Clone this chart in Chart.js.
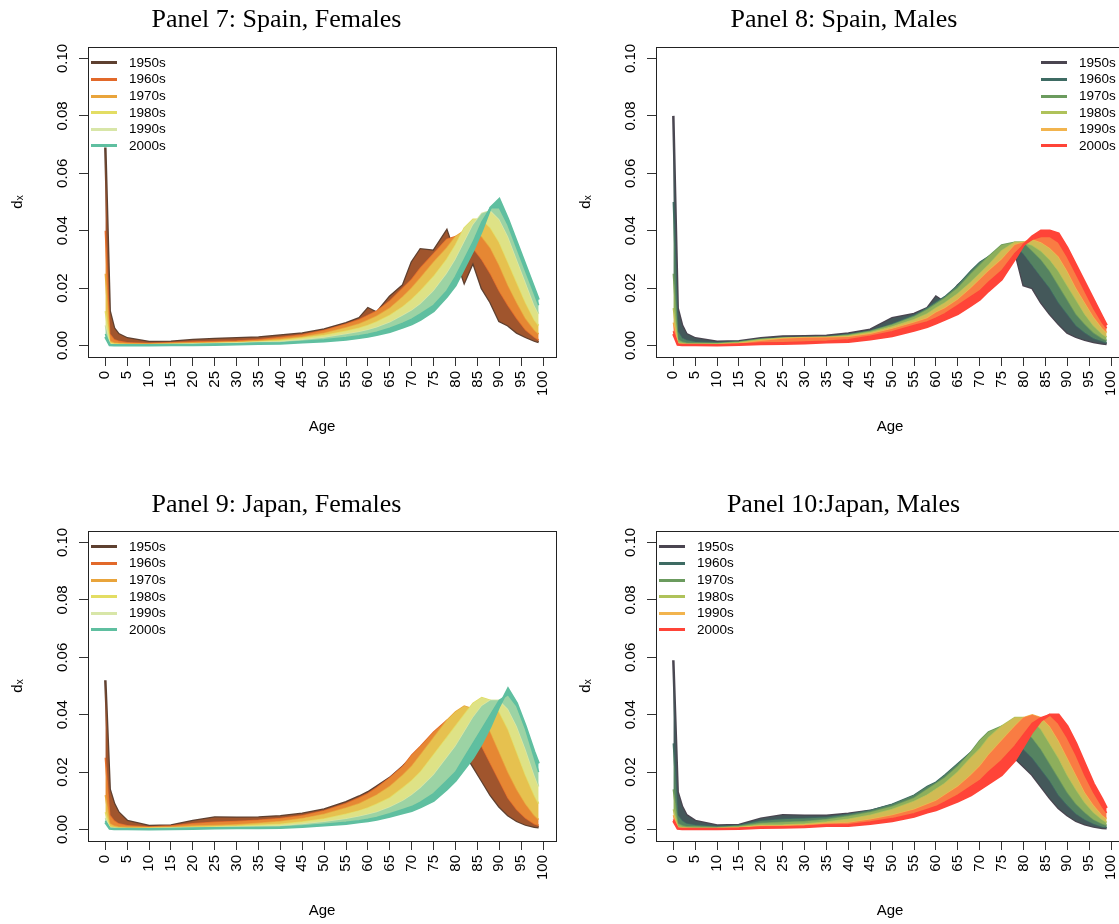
<!DOCTYPE html>
<html>
<head>
<meta charset="utf-8">
<script src="https://cdn.jsdelivr.net/npm/chart.js@4/dist/chart.umd.min.js"></script>
<style>
  html, body { margin: 0; padding: 0; background: #fff; width: 1119px; height: 924px; overflow: hidden; position: relative; }
  canvas { position: absolute; }
  .ttl { position: absolute; font-family: "Liberation Serif", "Times New Roman", serif; font-size: 26px; line-height: 26px; white-space: nowrap; color: #000; transform: translateX(-50%); }
  .sw { position: absolute; width: 26px; height: 3px; }
  .lt { position: absolute; font-family: "Liberation Sans", Arial, sans-serif; font-size: 13.5px; line-height: 16px; color: #000; white-space: nowrap; }
</style>
</head>
<body>
<script>
// Ages at which the life-table deaths d(x) are plotted
const AGES = [0, 1, 2, 3, 5, 10, 15, 20, 25, 30, 35, 40, 45, 50, 55, 58, 60, 62, 65, 68, 70, 72, 75, 78, 80, 82, 84, 86, 88, 90, 92, 94, 96, 98, 99];
const X_TICKS = [0, 5, 10, 15, 20, 25, 30, 35, 40, 45, 50, 55, 60, 65, 70, 75, 80, 85, 90, 95, 100];
const Y_TICKS = [0, 0.02, 0.04, 0.06, 0.08, 0.10];
const DECADES = ['1950s', '1960s', '1970s', '1980s', '1990s', '2000s'];
const YEARS = [1950, 1960, 1970, 1980, 1990, 2000, 2009];

const FEMALE_COLORS = ['#5e4030', '#e2692a', '#e9a43b', '#e3dd63', '#d8e6a8', '#5fbfa0'];
const MALE_COLORS = ['#4a4550', '#3e6b63', '#6b9b5e', '#afc25a', '#f2b44e', '#ff4438'];

// Spain, females
const ES_F_1950 = [0.069, 0.012, 0.006, 0.004, 0.0025, 0.0012, 0.0013, 0.0019, 0.0023, 0.0025, 0.0028, 0.0035, 0.0042, 0.0056, 0.0078, 0.0095, 0.013, 0.0115, 0.017, 0.021, 0.029, 0.0335, 0.033, 0.040, 0.031, 0.022, 0.029, 0.020, 0.015, 0.0085, 0.007, 0.0045, 0.003, 0.0017, 0.0012];
const ES_F_1960 = [0.040, 0.004, 0.002, 0.0015, 0.001, 0.0007, 0.001, 0.0012, 0.0014, 0.0016, 0.002, 0.0028, 0.0037, 0.0052, 0.0074, 0.009, 0.0105, 0.012, 0.0155, 0.020, 0.023, 0.027, 0.032, 0.037, 0.038, 0.037, 0.034, 0.030, 0.025, 0.019, 0.014, 0.0095, 0.0055, 0.003, 0.002];
const ES_F_1970 = [0.025, 0.0015, 0.0009, 0.0007, 0.0006, 0.0005, 0.0007, 0.0009, 0.001, 0.0012, 0.0016, 0.0022, 0.003, 0.0043, 0.0062, 0.0075, 0.0088, 0.0102, 0.013, 0.017, 0.020, 0.0235, 0.029, 0.034, 0.038, 0.040, 0.040, 0.038, 0.034, 0.028, 0.021, 0.015, 0.0095, 0.0055, 0.004];
const ES_F_1980 = [0.012, 0.0008, 0.0005, 0.0004, 0.0003, 0.0003, 0.0004, 0.0006, 0.0007, 0.0009, 0.0012, 0.0017, 0.0025, 0.0035, 0.005, 0.006, 0.007, 0.0082, 0.0105, 0.0135, 0.016, 0.019, 0.024, 0.030, 0.035, 0.041, 0.044, 0.044, 0.041, 0.036, 0.029, 0.022, 0.015, 0.009, 0.007];
const ES_F_1990 = [0.007, 0.0004, 0.0003, 0.0002, 0.0002, 0.0002, 0.0003, 0.0005, 0.0007, 0.0009, 0.0011, 0.0013, 0.0019, 0.0027, 0.0039, 0.0047, 0.0054, 0.0063, 0.008, 0.0105, 0.0122, 0.0145, 0.019, 0.025, 0.030, 0.036, 0.042, 0.046, 0.047, 0.044, 0.038, 0.030, 0.022, 0.014, 0.011];
const ES_F_2000 = [0.004, 0.0003, 0.0002, 0.0002, 0.0001, 0.0001, 0.0002, 0.0003, 0.0004, 0.0005, 0.0008, 0.0009, 0.0014, 0.002, 0.0028, 0.0034, 0.0039, 0.0046, 0.006, 0.0078, 0.0092, 0.011, 0.014, 0.019, 0.024, 0.030, 0.036, 0.043, 0.048, 0.048, 0.042, 0.034, 0.026, 0.018, 0.014];
const ES_F_2009 = [0.003, 0.0002, 0.0001, 0.0001, 0.0001, 0.0001, 0.0002, 0.0002, 0.0003, 0.0004, 0.0006, 0.0007, 0.0011, 0.0015, 0.0021, 0.0027, 0.0031, 0.0037, 0.0048, 0.0063, 0.0075, 0.009, 0.012, 0.017, 0.021, 0.027, 0.033, 0.040, 0.048, 0.051, 0.044, 0.036, 0.028, 0.020, 0.016];

// Spain, males
const ES_M_1950 = [0.080, 0.013, 0.007, 0.004, 0.0025, 0.0013, 0.0015, 0.0025, 0.0031, 0.0032, 0.0034, 0.0042, 0.0055, 0.0095, 0.011, 0.013, 0.017, 0.015, 0.021, 0.025, 0.027, 0.030, 0.030, 0.033, 0.021, 0.020, 0.015, 0.011, 0.0075, 0.0045, 0.003, 0.002, 0.0012, 0.0007, 0.0005];
const ES_M_1960 = [0.050, 0.005, 0.0025, 0.0018, 0.0012, 0.001, 0.0013, 0.0022, 0.0026, 0.0028, 0.003, 0.0038, 0.005, 0.0075, 0.0105, 0.013, 0.015, 0.017, 0.021, 0.026, 0.029, 0.031, 0.034, 0.035, 0.032, 0.028, 0.024, 0.020, 0.015, 0.011, 0.007, 0.0045, 0.0025, 0.0015, 0.001];
const ES_M_1970 = [0.025, 0.002, 0.0012, 0.0009, 0.0008, 0.0007, 0.0012, 0.0022, 0.0024, 0.0026, 0.003, 0.0037, 0.005, 0.0072, 0.010, 0.0125, 0.0145, 0.0165, 0.020, 0.025, 0.028, 0.031, 0.035, 0.036, 0.036, 0.033, 0.030, 0.026, 0.021, 0.016, 0.011, 0.0075, 0.0045, 0.0025, 0.0018];
const ES_M_1980 = [0.013, 0.001, 0.0007, 0.0005, 0.0005, 0.0005, 0.001, 0.002, 0.0026, 0.0028, 0.0028, 0.0033, 0.0045, 0.0065, 0.009, 0.011, 0.013, 0.0148, 0.018, 0.022, 0.025, 0.028, 0.033, 0.036, 0.036, 0.035, 0.033, 0.030, 0.026, 0.021, 0.016, 0.011, 0.007, 0.004, 0.003];
const ES_M_1990 = [0.008, 0.0006, 0.0004, 0.0003, 0.0003, 0.0003, 0.0007, 0.0016, 0.0024, 0.0027, 0.0028, 0.003, 0.004, 0.0058, 0.008, 0.0095, 0.0115, 0.013, 0.016, 0.020, 0.023, 0.026, 0.030, 0.035, 0.036, 0.037, 0.036, 0.034, 0.031, 0.026, 0.020, 0.015, 0.010, 0.006, 0.0045];
const ES_M_2000 = [0.005, 0.0004, 0.0003, 0.0002, 0.0002, 0.0002, 0.0004, 0.0009, 0.001, 0.0012, 0.0015, 0.002, 0.0032, 0.0048, 0.007, 0.0082, 0.0095, 0.011, 0.014, 0.017, 0.019, 0.022, 0.026, 0.032, 0.035, 0.037, 0.038, 0.038, 0.036, 0.031, 0.025, 0.019, 0.013, 0.008, 0.006];
const ES_M_2009 = [0.004, 0.0003, 0.0002, 0.0002, 0.0002, 0.0001, 0.0003, 0.0005, 0.0006, 0.0008, 0.0011, 0.0013, 0.0022, 0.0033, 0.0052, 0.0065, 0.0077, 0.009, 0.011, 0.014, 0.016, 0.019, 0.023, 0.030, 0.035, 0.038, 0.040, 0.040, 0.039, 0.034, 0.028, 0.022, 0.016, 0.010, 0.007];

// Japan, females
const JP_F_1950 = [0.052, 0.014, 0.009, 0.006, 0.003, 0.0012, 0.0014, 0.003, 0.0042, 0.0041, 0.0042, 0.0046, 0.0055, 0.007, 0.0095, 0.0115, 0.013, 0.015, 0.018, 0.022, 0.025, 0.028, 0.031, 0.032, 0.030, 0.027, 0.022, 0.017, 0.012, 0.008, 0.005, 0.003, 0.0017, 0.001, 0.0008];
const JP_F_1960 = [0.025, 0.005, 0.003, 0.002, 0.0013, 0.0009, 0.0012, 0.002, 0.0025, 0.0028, 0.0032, 0.0038, 0.0048, 0.0065, 0.009, 0.011, 0.0125, 0.0145, 0.018, 0.022, 0.026, 0.029, 0.034, 0.038, 0.039, 0.037, 0.034, 0.029, 0.023, 0.017, 0.011, 0.007, 0.004, 0.002, 0.0015];
const JP_F_1970 = [0.012, 0.002, 0.0012, 0.0009, 0.0008, 0.0006, 0.0008, 0.0012, 0.0014, 0.0017, 0.0022, 0.0028, 0.0038, 0.0053, 0.0075, 0.009, 0.0105, 0.012, 0.015, 0.019, 0.022, 0.026, 0.032, 0.038, 0.041, 0.043, 0.042, 0.039, 0.034, 0.027, 0.020, 0.014, 0.009, 0.005, 0.0035];
const JP_F_1980 = [0.006, 0.001, 0.0006, 0.0005, 0.0003, 0.0004, 0.0005, 0.0007, 0.0009, 0.0011, 0.0015, 0.0018, 0.0026, 0.0037, 0.0053, 0.0065, 0.0075, 0.0088, 0.011, 0.0145, 0.017, 0.020, 0.026, 0.032, 0.036, 0.040, 0.044, 0.046, 0.045, 0.041, 0.035, 0.027, 0.019, 0.012, 0.009];
const JP_F_1990 = [0.004, 0.0006, 0.0004, 0.0003, 0.0003, 0.0003, 0.0004, 0.0005, 0.0007, 0.0009, 0.001, 0.0012, 0.0018, 0.0026, 0.0037, 0.0045, 0.0052, 0.006, 0.0078, 0.010, 0.012, 0.0145, 0.019, 0.025, 0.029, 0.034, 0.039, 0.043, 0.045, 0.045, 0.042, 0.036, 0.028, 0.019, 0.015];
const JP_F_2000 = [0.003, 0.0004, 0.0003, 0.0002, 0.0002, 0.0002, 0.0003, 0.0004, 0.0005, 0.0006, 0.0007, 0.0008, 0.0012, 0.0018, 0.0025, 0.0031, 0.0036, 0.0042, 0.0055, 0.007, 0.008, 0.0095, 0.0125, 0.017, 0.020, 0.025, 0.030, 0.035, 0.040, 0.045, 0.047, 0.043, 0.035, 0.025, 0.020];
const JP_F_2009 = [0.0025, 0.0003, 0.0002, 0.0002, 0.0002, 0.0001, 0.0002, 0.0003, 0.0004, 0.0005, 0.0005, 0.0006, 0.001, 0.0015, 0.002, 0.0026, 0.003, 0.0035, 0.0045, 0.0057, 0.0065, 0.0078, 0.010, 0.014, 0.017, 0.021, 0.025, 0.030, 0.036, 0.043, 0.049, 0.044, 0.036, 0.027, 0.023];

// Japan, males
const JP_M_1950 = [0.059, 0.013, 0.008, 0.005, 0.003, 0.0014, 0.0016, 0.0038, 0.005, 0.0048, 0.0048, 0.0055, 0.0065, 0.0085, 0.011, 0.0135, 0.015, 0.017, 0.020, 0.023, 0.025, 0.026, 0.027, 0.025, 0.022, 0.019, 0.015, 0.011, 0.0075, 0.005, 0.003, 0.0018, 0.001, 0.0005, 0.0004];
const JP_M_1960 = [0.030, 0.005, 0.003, 0.002, 0.0015, 0.001, 0.0014, 0.003, 0.0036, 0.0038, 0.0042, 0.0052, 0.0066, 0.0088, 0.012, 0.015, 0.0165, 0.019, 0.023, 0.027, 0.029, 0.031, 0.032, 0.031, 0.028, 0.025, 0.021, 0.017, 0.012, 0.0085, 0.0055, 0.0035, 0.002, 0.001, 0.0008];
const JP_M_1970 = [0.014, 0.002, 0.0013, 0.001, 0.001, 0.0007, 0.0011, 0.0022, 0.0025, 0.0028, 0.0035, 0.0046, 0.006, 0.008, 0.011, 0.014, 0.016, 0.018, 0.022, 0.027, 0.031, 0.034, 0.036, 0.037, 0.035, 0.032, 0.028, 0.023, 0.018, 0.013, 0.009, 0.006, 0.0035, 0.002, 0.0015];
const JP_M_1980 = [0.007, 0.001, 0.0007, 0.0005, 0.0004, 0.0005, 0.0008, 0.0015, 0.0016, 0.0019, 0.0026, 0.0036, 0.005, 0.007, 0.0098, 0.012, 0.014, 0.016, 0.020, 0.025, 0.028, 0.032, 0.036, 0.039, 0.039, 0.038, 0.035, 0.030, 0.025, 0.019, 0.014, 0.0095, 0.006, 0.0035, 0.0025];
const JP_M_1990 = [0.005, 0.0006, 0.0004, 0.0004, 0.0003, 0.0003, 0.0006, 0.0012, 0.0013, 0.0016, 0.0021, 0.0024, 0.0035, 0.005, 0.007, 0.0088, 0.010, 0.012, 0.015, 0.019, 0.022, 0.026, 0.031, 0.036, 0.039, 0.040, 0.039, 0.036, 0.031, 0.025, 0.019, 0.013, 0.0085, 0.005, 0.0038];
const JP_M_2000 = [0.0035, 0.0004, 0.0003, 0.0003, 0.0002, 0.0002, 0.0004, 0.0008, 0.0009, 0.0011, 0.0016, 0.0017, 0.0026, 0.0038, 0.0055, 0.007, 0.008, 0.0095, 0.012, 0.015, 0.017, 0.020, 0.024, 0.029, 0.033, 0.037, 0.039, 0.040, 0.037, 0.032, 0.026, 0.019, 0.013, 0.008, 0.0058];
const JP_M_2009 = [0.003, 0.0003, 0.0002, 0.0002, 0.0002, 0.0002, 0.0003, 0.0006, 0.0007, 0.0009, 0.0013, 0.0013, 0.002, 0.003, 0.0045, 0.006, 0.0068, 0.008, 0.0098, 0.012, 0.014, 0.016, 0.019, 0.024, 0.029, 0.034, 0.038, 0.040, 0.040, 0.036, 0.030, 0.023, 0.016, 0.0105, 0.0075];

const SANS = '"Liberation Sans", Arial, Helvetica, sans-serif';
Chart.defaults.font.family = SANS;
Chart.defaults.color = '#000';

const PANELS = [
  { title: 'Panel 7: Spain, Females', left: 0, top: 0, titleX: 276.5, titleTop: 6, legend: 'left',
    colors: FEMALE_COLORS, series: [ES_F_1950, ES_F_1960, ES_F_1970, ES_F_1980, ES_F_1990, ES_F_2000, ES_F_2009] },
  { title: 'Panel 8: Spain, Males', left: 568, top: 0, titleX: 844, titleTop: 6, legend: 'right',
    colors: MALE_COLORS, series: [ES_M_1950, ES_M_1960, ES_M_1970, ES_M_1980, ES_M_1990, ES_M_2000, ES_M_2009] },
  { title: 'Panel 9: Japan, Females', left: 0, top: 484, titleX: 276.5, titleTop: 490.5, legend: 'left',
    colors: FEMALE_COLORS, series: [JP_F_1950, JP_F_1960, JP_F_1970, JP_F_1980, JP_F_1990, JP_F_2000, JP_F_2009] },
  { title: 'Panel 10:Japan, Males', left: 568, top: 484, titleX: 843.5, titleTop: 490.5, legend: 'left',
    colors: MALE_COLORS, series: [JP_M_1950, JP_M_1960, JP_M_1970, JP_M_1980, JP_M_1990, JP_M_2000, JP_M_2009] }
];

// canvas geometry (plot box is 88..556 x 47..357 inside each canvas)
const CW = 568, CH = 440, BOX_L = 88, BOX_R = 556, BOX_T = 47;

function hexToRgb(h) {
  const n = parseInt(h.slice(1), 16);
  return [(n >> 16) & 255, (n >> 8) & 255, n & 255];
}
function mix(a, b, t) {
  const A = hexToRgb(a), B = hexToRgb(b);
  const c = A.map((v, i) => Math.round(v + (B[i] - v) * t));
  return 'rgb(' + c.join(',') + ')';
}

function el(tag, cls, css, text) {
  const e = document.createElement(tag);
  if (cls) e.className = cls;
  Object.assign(e.style, css);
  if (text != null) e.textContent = text;
  document.body.appendChild(e);
  return e;
}

function axisBase(extra) {
  return Object.assign({
    type: 'linear',
    grid: { display: true, drawOnChartArea: false, drawTicks: true, tickLength: 9, color: '#333', lineWidth: 1 },
    border: { display: true, color: '#222', width: 1 }
  }, extra);
}

PANELS.forEach(p => {
  const cv = document.createElement('canvas');
  cv.width = CW; cv.height = CH;
  cv.style.left = p.left + 'px';
  cv.style.top = p.top + 'px';
  cv.style.width = CW + 'px';
  cv.style.height = CH + 'px';
  document.body.appendChild(cv);

  // one line per year; the band between consecutive years takes the blend of their decade colours
  const last = p.series.length - 1;
  const datasets = p.series.map((vals, i) => {
    const dec = Math.min(i, DECADES.length - 1);
    const prev = Math.max(i - 1, 0);
    return {
      label: String(YEARS[i]),
      data: AGES.map((a, j) => ({ x: a, y: vals[j] })),
      borderColor: p.colors[dec],
      borderWidth: (i === 0 || i === last) ? 2.5 : 1.5,
      pointRadius: 0,
      tension: 0,
      fill: i === 0 ? false : '-1',
      backgroundColor: mix(p.colors[prev], p.colors[dec], 0.5),
      order: -i
    };
  });

  new Chart(cv, {
    type: 'line',
    data: { datasets },
    options: {
      responsive: false,
      animation: false,
      devicePixelRatio: 1,
      layout: { padding: { left: 0, right: CW - BOX_R, top: BOX_T, bottom: 0 } },
      plugins: {
        legend: { display: false },
        tooltip: { enabled: false },
        filler: { drawTime: 'beforeDatasetDraw' }
      },
      scales: {
        x: axisBase({
          position: 'bottom', min: -3.96, max: 102.96,
          afterBuildTicks: s => { s.ticks = X_TICKS.map(v => ({ value: v })); },
          afterFit: s => { s.height = CH - 357; },
          ticks: { autoSkip: false, minRotation: 90, maxRotation: 90, padding: 5, color: '#000',
                   font: { size: 15 }, callback: v => String(v) },
          title: { display: true, text: 'Age', color: '#000', font: { size: 15 }, padding: { top: 0, bottom: 4.5 } }
        }),
        y: axisBase({
          position: 'left', min: -0.004, max: 0.104,
          afterBuildTicks: s => { s.ticks = Y_TICKS.map(v => ({ value: v })); },
          afterFit: s => { s.width = BOX_L; },
          ticks: { minRotation: 90, maxRotation: 90, crossAlign: 'center', padding: 1.5, color: '#000',
                   font: { size: 15 }, callback: v => v.toFixed(2) },
          title: { display: true, text: 'dₓ', color: '#000', font: { size: 15 }, padding: { top: 9, bottom: 0 } }
        }),
        xTop: axisBase({
          position: 'top', min: -3.96, max: 102.96,
          grid: { display: false, drawTicks: false },
          ticks: { display: false },
          afterFit: s => { s.height = 0; }
        }),
        yRight: axisBase({
          position: 'right', min: -0.004, max: 0.104,
          grid: { display: false, drawTicks: false },
          ticks: { display: false },
          afterFit: s => { s.width = 0; }
        })
      }
    }
  });

  // panel title
  el('div', 'ttl', { left: p.titleX + 'px', top: p.titleTop + 'px' }, p.title);

  // decade legend inside the plot box
  const boxTop = p.top + BOX_T;
  const lx = p.legend === 'left' ? p.left + BOX_L : (p.left + BOX_R) - 86;
  DECADES.forEach((d, i) => {
    const cy = boxTop + 15.7 + 16.65 * i;
    el('div', 'sw', { left: (lx + 3) + 'px', top: (cy - 1.5) + 'px', background: p.colors[i] });
    el('div', 'lt', { left: (lx + 41) + 'px', top: (cy - 8) + 'px' }, d);
  });
});
</script>
</body>
</html>
